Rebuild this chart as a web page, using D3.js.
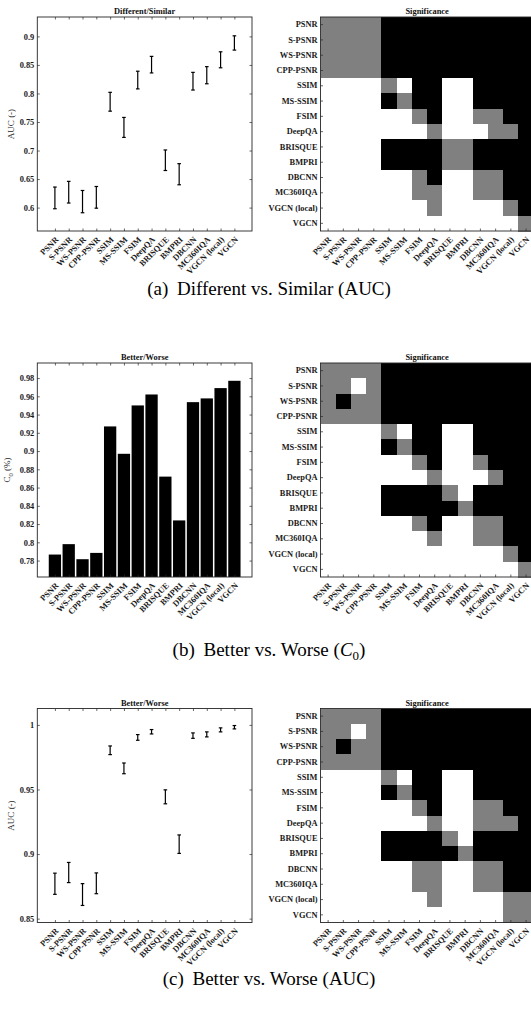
<!DOCTYPE html>
<html><head><meta charset="utf-8">
<script src="https://cdn.jsdelivr.net/npm/d3@7"></script>
<style>body{margin:0;background:#fff} svg{display:block}</style>
</head><body>
<svg id="c" width="531" height="1009"></svg>
<script>
// ---------- DATA ----------
const categories = ["PSNR","S-PSNR","WS-PSNR","CPP-PSNR","SSIM","MS-SSIM","FSIM","DeepQA","BRISQUE","BMPRI","DBCNN","MC360IQA","VGCN (local)","VGCN"];

// (a) Different/Similar AUC confidence intervals
const aucDiffLow  = [0.598,0.608,0.591,0.599,0.769,0.723,0.808,0.836,0.665,0.640,0.806,0.817,0.845,0.876];
const aucDiffHigh = [0.636,0.646,0.630,0.637,0.802,0.758,0.839,0.865,0.701,0.677,0.837,0.847,0.873,0.901];
const aucDiffTicks = [0.6,0.65,0.7,0.75,0.8,0.85,0.9];

// (b) Better/Worse C0
const c0Values = [0.7866,0.798,0.7815,0.7884,0.927,0.897,0.950,0.962,0.872,0.824,0.9536,0.9577,0.969,0.977];
const c0Ticks = [0.78,0.8,0.82,0.84,0.86,0.88,0.9,0.92,0.94,0.96,0.98];

// (c) Better/Worse AUC confidence intervals
const aucBWLow  = [0.8688,0.8779,0.8602,0.8693,0.977,0.9622,0.9881,0.993,0.9389,0.9005,0.9896,0.9907,0.9946,0.9969];
const aucBWHigh = [0.8852,0.8935,0.8771,0.8854,0.9837,0.9705,0.9925,0.9964,0.9497,0.9148,0.9938,0.9946,0.9977,0.9995];
const aucBWTicks = [0.85,0.9,0.95,1];

// significance matrices: 2 = black, 1 = gray, 0 = white
const sigA = [
 [1,1,1,1,2,2,2,2,2,2,2,2,2,2],
 [1,1,1,1,2,2,2,2,2,2,2,2,2,2],
 [1,1,1,1,2,2,2,2,2,2,2,2,2,2],
 [1,1,1,1,2,2,2,2,2,2,2,2,2,2],
 [0,0,0,0,1,0,2,2,0,0,2,2,2,2],
 [0,0,0,0,2,1,2,2,0,0,2,2,2,2],
 [0,0,0,0,0,0,1,2,0,0,1,1,2,2],
 [0,0,0,0,0,0,0,1,0,0,0,1,1,2],
 [0,0,0,0,2,2,2,2,1,1,2,2,2,2],
 [0,0,0,0,2,2,2,2,1,1,2,2,2,2],
 [0,0,0,0,0,0,1,2,0,0,1,1,2,2],
 [0,0,0,0,0,0,1,1,0,0,1,1,2,2],
 [0,0,0,0,0,0,0,1,0,0,0,0,1,2],
 [0,0,0,0,0,0,0,0,0,0,0,0,0,1]];
const sigB = [
 [1,1,1,1,2,2,2,2,2,2,2,2,2,2],
 [1,1,0,1,2,2,2,2,2,2,2,2,2,2],
 [1,2,1,1,2,2,2,2,2,2,2,2,2,2],
 [1,1,1,1,2,2,2,2,2,2,2,2,2,2],
 [0,0,0,0,1,0,2,2,0,0,2,2,2,2],
 [0,0,0,0,2,1,2,2,0,0,2,2,2,2],
 [0,0,0,0,0,0,1,2,0,0,1,2,2,2],
 [0,0,0,0,0,0,0,1,0,0,0,1,2,2],
 [0,0,0,0,2,2,2,2,1,0,2,2,2,2],
 [0,0,0,0,2,2,2,2,2,1,2,2,2,2],
 [0,0,0,0,0,0,1,2,0,0,1,1,2,2],
 [0,0,0,0,0,0,0,1,0,0,1,1,2,2],
 [0,0,0,0,0,0,0,0,0,0,0,0,1,2],
 [0,0,0,0,0,0,0,0,0,0,0,0,0,1]];
const sigC = [
 [1,1,1,1,2,2,2,2,2,2,2,2,2,2],
 [1,1,0,1,2,2,2,2,2,2,2,2,2,2],
 [1,2,1,1,2,2,2,2,2,2,2,2,2,2],
 [1,1,1,1,2,2,2,2,2,2,2,2,2,2],
 [0,0,0,0,1,0,2,2,0,0,2,2,2,2],
 [0,0,0,0,2,1,2,2,0,0,2,2,2,2],
 [0,0,0,0,0,0,1,2,0,0,1,1,2,2],
 [0,0,0,0,0,0,0,1,0,0,1,1,1,2],
 [0,0,0,0,2,2,2,2,1,0,2,2,2,2],
 [0,0,0,0,2,2,2,2,2,1,2,2,2,2],
 [0,0,0,0,0,0,1,1,0,0,1,1,2,2],
 [0,0,0,0,0,0,1,1,0,0,1,1,2,2],
 [0,0,0,0,0,0,0,1,0,0,0,0,1,1],
 [0,0,0,0,0,0,0,0,0,0,0,0,1,1]];

// ---------- LAYOUT ----------
const FONT = "'Liberation Serif','Times New Roman',serif";
const AX = "#262626";
const rowTops = [17, 363, 708.5];
const boxH = 214;
const plotL = 37.3, plotR = 252;
const matL = 320.5, matW = 213.2;
const tickLen = 2.5;
const tickFont = 8.4;
const titleFont = 8.4;
const cellColors = ["#ffffff", "#808080", "#000000"];

const svg = d3.select("#c");

function styleAxis(sel) {
  sel.select(".domain").remove();
  sel.selectAll(".tick line").attr("stroke", AX).attr("stroke-width", 0.7);
  sel.selectAll("text").attr("font-family", FONT).attr("font-size", tickFont)
     .attr("font-weight", "bold").attr("fill", "#1a1a1a");
  sel.attr("font-family", null).attr("font-size", null);
}
function rotateLabels(sel) {
  sel.selectAll(".tick text")
    .attr("x", 0).attr("y", 0).attr("dy", "0.35em")
    .attr("text-anchor", "end")
    .attr("transform", "translate(1.5,7) rotate(-45)");
}

function leftPanel(top, title, yDomain, yTicks, drawMarks, ylabel, ylabelX) {
  const g = svg.append("g");
  const x = d3.scalePoint().domain(categories).range([plotL, plotR]).padding(1.275);
  const y = d3.scaleLinear().domain(yDomain).range([top + boxH, top]);
  drawMarks(g, x, y);
  const fmt = v => String(+v.toFixed(2));
  g.append("g").attr("transform", `translate(${plotL},0)`)
    .call(d3.axisLeft(y).tickValues(yTicks).tickSize(-tickLen).tickPadding(3).tickFormat(fmt))
    .call(styleAxis);
  g.append("g").attr("transform", `translate(${plotR},0)`)
    .call(d3.axisRight(y).tickValues(yTicks).tickSize(-tickLen).tickFormat(""))
    .call(styleAxis);
  g.append("g").attr("transform", `translate(0,${top + boxH})`)
    .call(d3.axisBottom(x).tickSize(-tickLen))
    .call(styleAxis).call(rotateLabels);
  g.append("g").attr("transform", `translate(0,${top})`)
    .call(d3.axisTop(x).tickSize(-tickLen).tickFormat(""))
    .call(styleAxis);
  g.append("rect").attr("x", plotL).attr("y", top).attr("width", plotR - plotL).attr("height", boxH)
    .attr("fill", "none").attr("stroke", AX).attr("stroke-width", 0.9);
  g.append("text").attr("x", (plotL + plotR) / 2).attr("y", top - 3)
    .attr("text-anchor", "middle").attr("font-family", FONT).attr("font-size", titleFont)
    .attr("font-weight", "bold").attr("fill", "#111").text(title);
  const yl = g.append("text")
    .attr("transform", `translate(${ylabelX},${top + boxH / 2}) rotate(-90)`)
    .attr("text-anchor", "middle").attr("font-family", FONT).attr("font-size", 9)
    .attr("fill", "#262626");
  ylabel(yl);
}

function errorMarks(low, high) {
  return (g, x, y) => {
    const cap = 1.8;
    const d = categories.map((c, i) => ({c, lo: low[i], hi: high[i]}));
    const eg = g.append("g").attr("stroke", "#000").attr("stroke-width", 1.2);
    eg.selectAll("line.v").data(d).join("line").attr("class", "v")
      .attr("x1", e => x(e.c)).attr("x2", e => x(e.c))
      .attr("y1", e => y(e.lo)).attr("y2", e => y(e.hi));
    eg.selectAll("line.t").data(d).join("line").attr("class", "t")
      .attr("x1", e => x(e.c) - cap).attr("x2", e => x(e.c) + cap)
      .attr("y1", e => y(e.hi)).attr("y2", e => y(e.hi));
    eg.selectAll("line.b").data(d).join("line").attr("class", "b")
      .attr("x1", e => x(e.c) - cap).attr("x2", e => x(e.c) + cap)
      .attr("y1", e => y(e.lo)).attr("y2", e => y(e.lo));
  };
}
function barMarks(values, top) {
  return (g, x, y) => {
    const w = x.step() * 0.89;
    g.append("g").selectAll("rect").data(categories.map((c, i) => ({c, v: values[i]}))).join("rect")
      .attr("x", d => x(d.c) - w / 2).attr("width", w)
      .attr("y", d => y(d.v)).attr("height", d => top + boxH - y(d.v))
      .attr("fill", "#000");
  };
}

function matrixPanel(top, sig) {
  const g = svg.append("g");
  const xm = d3.scaleBand().domain(categories).range([matL, matL + matW]);
  const ym = d3.scaleBand().domain(categories).range([top, top + boxH]);
  const cells = [];
  sig.forEach((row, i) => row.forEach((v, j) => cells.push({r: categories[i], c: categories[j], v})));
  g.append("g").attr("shape-rendering", "crispEdges").selectAll("rect").data(cells).join("rect")
    .attr("x", d => xm(d.c)).attr("y", d => ym(d.r))
    .attr("width", xm.bandwidth() + 0.5).attr("height", ym.bandwidth() + 0.5)
    .attr("fill", d => cellColors[d.v]);
  g.append("g").attr("transform", `translate(${matL},0)`)
    .call(d3.axisLeft(ym).tickSize(-tickLen).tickPadding(3))
    .call(styleAxis);
  g.append("g").attr("transform", `translate(0,${top + boxH})`)
    .call(d3.axisBottom(xm).tickSize(-tickLen))
    .call(styleAxis).call(rotateLabels);
  g.append("rect").attr("x", matL).attr("y", top).attr("width", matW).attr("height", boxH)
    .attr("fill", "none").attr("stroke", AX).attr("stroke-width", 0.9);
  g.append("text").attr("x", matL + matW / 2).attr("y", top - 3)
    .attr("text-anchor", "middle").attr("font-family", FONT).attr("font-size", titleFont)
    .attr("font-weight", "bold").attr("fill", "#111").text("Significance");
}

function caption(y, build) {
  const t = svg.append("text").attr("x", 269).attr("y", y).attr("text-anchor", "middle")
    .attr("font-family", FONT).attr("font-size", 19).attr("fill", "#000");
  build(t);
}

// ---------- ROW (a) ----------
leftPanel(rowTops[0], "Different/Similar", [0.559, 0.934], aucDiffTicks,
  errorMarks(aucDiffLow, aucDiffHigh), t => t.text("AUC (-)"), 14);
matrixPanel(rowTops[0], sigA);
caption(295, t => { t.append("tspan").text("(a)"); t.append("tspan").attr("dx", 4).text(" Different vs. Similar (AUC)"); });

// ---------- ROW (b) ----------
leftPanel(rowTops[1], "Better/Worse", [0.762, 0.9965], c0Ticks,
  barMarks(c0Values, rowTops[1]), t => {
    t.append("tspan").text("C");
    t.append("tspan").attr("font-size", 6.5).attr("dy", 2.5).text("0");
    t.append("tspan").attr("dy", -2.5).text(" (%)");
  }, 10);
matrixPanel(rowTops[1], sigB);
caption(656, t => {
  t.append("tspan").text("(b)");
  t.append("tspan").attr("dx", 4).text(" Better vs. Worse (");
  t.append("tspan").attr("font-style", "italic").text("C");
  t.append("tspan").attr("font-size", 13).attr("dy", 4).text("0");
  t.append("tspan").attr("dy", -4).text(")");
});

// ---------- ROW (c) ----------
leftPanel(rowTops[2], "Better/Worse", [0.847, 1.0127], aucBWTicks,
  errorMarks(aucBWLow, aucBWHigh), t => t.text("AUC (-)"), 14);
matrixPanel(rowTops[2], sigC);
caption(985, t => { t.append("tspan").text("(c)"); t.append("tspan").attr("dx", 4).text(" Better vs. Worse (AUC)"); });
</script>
</body></html>
